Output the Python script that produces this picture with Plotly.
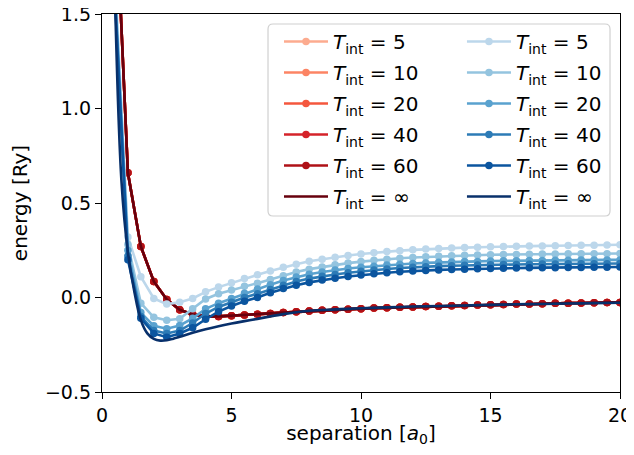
import plotly.graph_objects as go

# ---------------- data ----------------
sep = [0.5, 1.0, 1.5, 2.0, 2.5, 3.0, 3.5, 4.0, 4.5, 5.0, 5.5, 6.0, 6.5, 7.0, 7.5, 8.0,
       8.5, 9.0, 9.5, 10.0, 10.5, 11.0, 11.5, 12.0, 12.5, 13.0, 13.5, 14.0, 14.5, 15.0,
       15.5, 16.0, 16.5, 17.0, 17.5, 18.0, 18.5, 19.0, 19.5, 20.0]

tint_labels = ["5", "10", "20", "40", "60", "∞"]

# red family (all T_int curves coincide)
red_energy = [2.2, 0.66, 0.27, 0.085, -0.01, -0.065, -0.09, -0.1, -0.1, -0.097, -0.093,
              -0.088, -0.084, -0.08, -0.076, -0.072, -0.068, -0.065, -0.062, -0.059,
              -0.056, -0.054, -0.052, -0.05, -0.048, -0.046, -0.044, -0.042, -0.04,
              -0.038, -0.037, -0.035, -0.034, -0.033, -0.031, -0.03, -0.029, -0.028,
              -0.027, -0.026]
red_t5 = red_energy
red_t10 = red_energy
red_t20 = red_energy
red_t40 = red_energy
red_t60 = red_energy
red_inf = red_energy

# blue family
blue_t5 = [1.7, 0.32, 0.11, -0.005, -0.035, -0.025, -0.005, 0.03, 0.055, 0.078, 0.1, 0.12,
           0.14, 0.16, 0.176, 0.192, 0.203, 0.213, 0.222, 0.23, 0.237, 0.243, 0.248,
           0.252, 0.256, 0.259, 0.262, 0.264, 0.266, 0.268, 0.27, 0.271, 0.272, 0.273,
           0.274, 0.275, 0.276, 0.277, 0.278, 0.279]
blue_t10 = [1.65, 0.28, -0.03, -0.105, -0.12, -0.113, -0.06, -0.008, 0.02, 0.04, 0.06,
            0.076, 0.095, 0.115, 0.135, 0.15, 0.162, 0.173, 0.182, 0.19, 0.197, 0.203,
            0.208, 0.212, 0.215, 0.218, 0.221, 0.223, 0.225, 0.226, 0.227, 0.228, 0.229,
            0.23, 0.23, 0.231, 0.231, 0.232, 0.232, 0.233]
blue_t20 = [1.62, 0.25, -0.08, -0.15, -0.165, -0.148, -0.11, -0.06, -0.03, -0.005, 0.022,
            0.045, 0.068, 0.09, 0.108, 0.123, 0.135, 0.145, 0.153, 0.16, 0.166, 0.172,
            0.176, 0.18, 0.183, 0.186, 0.188, 0.19, 0.191, 0.193, 0.194, 0.195, 0.196,
            0.196, 0.197, 0.197, 0.198, 0.198, 0.199, 0.199]
blue_t40 = [1.6, 0.22, -0.1, -0.175, -0.19, -0.175, -0.135, -0.085, -0.05, -0.025, 0.0,
            0.02, 0.042, 0.065, 0.085, 0.1, 0.112, 0.122, 0.131, 0.139, 0.146, 0.151,
            0.156, 0.16, 0.163, 0.166, 0.168, 0.17, 0.172, 0.173, 0.174, 0.175, 0.176,
            0.177, 0.177, 0.178, 0.178, 0.179, 0.179, 0.18]
blue_t60 = [1.58, 0.2, -0.11, -0.19, -0.21, -0.19, -0.16, -0.115, -0.075, -0.045, -0.02,
            0.0, 0.025, 0.047, 0.065, 0.08, 0.092, 0.102, 0.111, 0.119, 0.126, 0.131,
            0.136, 0.14, 0.143, 0.146, 0.148, 0.15, 0.152, 0.153, 0.155, 0.156, 0.157,
            0.158, 0.158, 0.159, 0.159, 0.16, 0.16, 0.161]

sep_inf = [0.5, 0.75, 1.0, 1.25, 1.5, 1.75, 2.0, 2.25, 2.5, 2.75, 3.0, 3.5, 4.0, 4.5, 5.0,
           5.5, 6.0, 6.5, 7.0, 7.5, 8.0, 9.0, 10.0, 11.0, 12.0, 13.0, 14.0, 15.0, 16.0,
           17.0, 18.0, 19.0, 20.0]
blue_inf = [1.6, 0.62, 0.24, 0.03, -0.12, -0.19, -0.219, -0.228, -0.226, -0.218, -0.208,
            -0.187, -0.168, -0.152, -0.138, -0.125, -0.113, -0.1, -0.088, -0.078, -0.07,
            -0.063, -0.057, -0.052, -0.048, -0.045, -0.042, -0.039, -0.036, -0.034,
            -0.032, -0.03, -0.028]

x_ticks = [0, 5, 10, 15, 20]
y_ticks = [-0.5, 0.0, 0.5, 1.0, 1.5]

red_colors = ["#fcab8f", "#fc8464", "#f4573e", "#d5232a", "#af1117", "#67000d"]
blue_colors = ["#bcd7eb", "#94c4df", "#5aa2cf", "#2d7bb6", "#0b559f", "#08306b"]

# ---------------- figure ----------------
FONT = "DejaVu Sans"
LW = 2.6
MS = 7.5
fig = go.Figure()

def label(t):
    return f"<i>T</i><sub>int</sub> = {t}"

red_series = [red_t5, red_t10, red_t20, red_t40, red_t60]
blue_series = [blue_t5, blue_t10, blue_t20, blue_t40, blue_t60]

for i, ys in enumerate(red_series):
    fig.add_trace(go.Scatter(x=sep, y=ys, mode="lines+markers", name=label(tint_labels[i]),
                             line=dict(color=red_colors[i], width=LW),
                             marker=dict(color=red_colors[i], size=MS),
                             legend="legend", legendgroup=f"r{i}"))
fig.add_trace(go.Scatter(x=sep, y=red_inf, mode="lines", name=label(tint_labels[5]),
                         line=dict(color=red_colors[5], width=LW),
                         legend="legend", legendgroup="r5"))
for i, ys in enumerate(blue_series):
    fig.add_trace(go.Scatter(x=sep, y=ys, mode="lines+markers", name=label(tint_labels[i]),
                             line=dict(color=blue_colors[i], width=LW),
                             marker=dict(color=blue_colors[i], size=MS),
                             legend="legend2", legendgroup=f"b{i}"))
fig.add_trace(go.Scatter(x=sep_inf, y=blue_inf, mode="lines", name=label(tint_labels[5]),
                         line=dict(color=blue_colors[5], width=LW, shape="spline"),
                         legend="legend2", legendgroup="b5"))

axis_common = dict(showline=True, linecolor="black", linewidth=1.3, mirror=True,
                   ticks="outside", ticklen=6, tickwidth=1.3, tickcolor="black",
                   showgrid=False, zeroline=False, automargin=False,
                   ticklabeloverflow="allow",
                   tickfont=dict(family=FONT, size=19, color="black"))

fig.update_xaxes(range=[0, 20], tickvals=x_ticks,
                 title=dict(text="separation [<i>a</i><sub>0</sub>]",
                            font=dict(family=FONT, size=20, color="black"), standoff=13),
                 **axis_common)
fig.update_yaxes(range=[-0.5, 1.5], tickvals=y_ticks, tickformat=".1f",
                 title=dict(text="energy [Ry]",
                            font=dict(family=FONT, size=20, color="black"), standoff=13),
                 **axis_common)

# legend frame (rounded box) drawn over the curves, legends sit on top of it
x0, x1, y0, y1 = 0.3205, 0.9807, 0.4656, 0.9735
rx, ry = 5 / 518, 5 / 378
frame = (f"M {x0 + rx},{y1} L {x1 - rx},{y1} Q {x1},{y1} {x1},{y1 - ry} "
         f"L {x1},{y0 + ry} Q {x1},{y0} {x1 - rx},{y0} L {x0 + rx},{y0} "
         f"Q {x0},{y0} {x0},{y0 + ry} L {x0},{y1 - ry} Q {x0},{y1} {x0 + rx},{y1} Z")
fig.add_shape(type="path", path=frame, xref="paper", yref="paper", layer="above",
              fillcolor="rgba(255,255,255,0.8)", line=dict(color="#d0d0d0", width=1.2))

legend_common = dict(yanchor="top", xanchor="left", orientation="v", itemwidth=44,
                     bgcolor="rgba(0,0,0,0)", borderwidth=0, tracegroupgap=2,
                     font=dict(family=FONT, size=20, color="black"))

# the page body adds an 8 px margin; size the figure to fit the 634x455 window
fig.update_layout(
    width=618, height=439,
    margin=dict(l=94, r=6, t=6, b=55),
    plot_bgcolor="white", paper_bgcolor="white",
    font=dict(family=FONT, size=19, color="black"),
    legend=dict(x=0.3417, y=0.9788, **legend_common),
    legend2=dict(x=0.6949, y=0.9788, **legend_common),
)

fig.write_html("out.html")
